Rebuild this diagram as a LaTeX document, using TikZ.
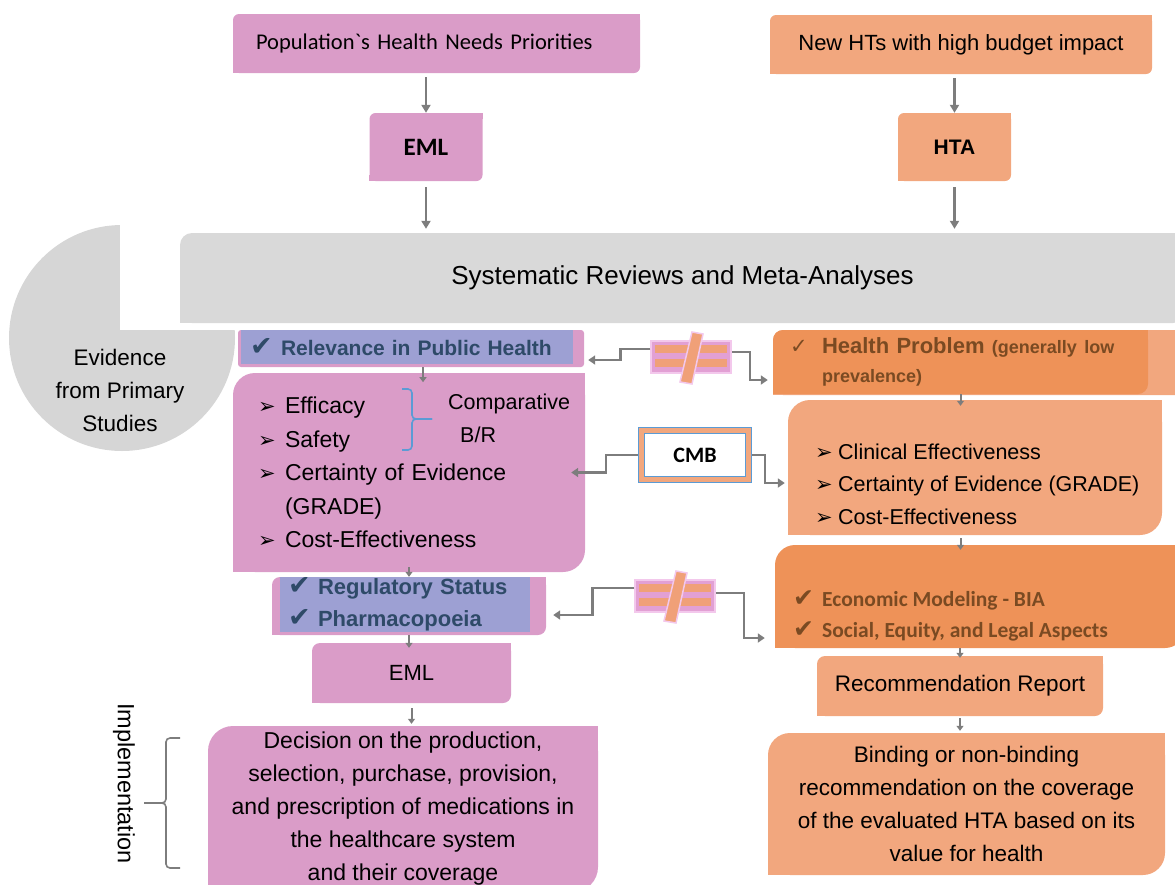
\documentclass[tikz,border=0pt]{standalone}
\usepackage{fontspec}
\setmainfont{Liberation Sans}
\newfontfamily\calibri{Carlito}
\newfontfamily\symfont{DejaVu Sans}
\usetikzlibrary{arrows.meta,calc,positioning}

\definecolor{cpink}{RGB}{218,156,200}
\definecolor{clav}{RGB}{157,160,211}
\definecolor{csalmon}{RGB}{242,167,126}
\definecolor{corange}{RGB}{238,146,88}
\definecolor{cgreybox}{RGB}{217,217,217}
\definecolor{ccircle}{RGB}{214,214,214}
\definecolor{cgrey}{RGB}{125,125,125}
\definecolor{cslate}{RGB}{46,74,104}
\definecolor{cbrown}{RGB}{122,74,34}
\definecolor{cblue}{RGB}{91,155,213}
\definecolor{cneqpink}{RGB}{226,160,212}
\definecolor{cneqedge}{RGB}{243,200,236}
\definecolor{cneqorange}{RGB}{240,160,120}

\newcommand\fs[2]{\fontsize{#1}{#2}\selectfont}
\newcommand\bul[1][27pt]{\makebox[#1][l]{\symfont\fs{21}{21}➢}}
\newcommand\chk[2][29pt]{\makebox[#1][l]{\symfont\fs{#2}{#2}✔}}
% square off top right and bottom left corner
\newcommand\sqcorner[3]{%
  \fill[#2] (#1.north east) rectangle ([xshift=-#3,yshift=-#3]#1.north east);
  \fill[#2] (#1.south west) rectangle ([xshift=#3,yshift=#3]#1.south west);}
% not-equal sign on a link
\newcommand\neqmark[1]{%
  \begin{scope}[shift={(#1.center)}]
    \fill[cneqorange] (-36,-12.5) rectangle (36,-4.5);
    \fill[cneqorange] (-36,1.5) rectangle (36,9.5);
    \draw[cneqedge, line width=1.5pt, fill=cneqorange] (1,-25) -- (12,-23) -- (1,27) -- (-11,25) -- cycle;
  \end{scope}}

\tikzset{
pbox/.style={
  fill=cpink,
  rounded corners=#1,
  inner sep=0pt,
  },
pbox/.default=8pt,
obox/.style={
  fill=csalmon,
  rounded corners=#1,
  inner sep=0pt,
  },
obox/.default=8pt,
dbox/.style={
  fill=corange,
  rounded corners=#1,
  inner sep=0pt,
  },
dbox/.default=8pt,
lbox/.style={
  fill=clav,
  inner sep=0pt,
  text=cslate,
  font=\bfseries\fs{21}{24},
  },
neqbox/.style={
  fill=cneqpink,
  draw=cneqedge,
  line width=1.5pt,
  minimum width=80pt,
  minimum height=32pt,
  }
}
\tikzset{
myarrow/.style={
  draw=cgrey,
  line width=2.2pt,
  -{Triangle[length=8pt,width=9pt]}
  },
smallarrow/.style={
  draw=cgrey,
  line width=2pt,
  -{Triangle[length=5pt,width=7pt]}
  },
myconn/.style={
  draw=cgrey,
  line width=2.5pt,
  -{Triangle[length=7pt,width=9pt]}
  },
mybrace/.style={
  line width=1.6pt,
  rounded corners=4pt,
  }
}

\begin{document}
\begin{tikzpicture}[x=1pt,y=-1pt]
    \useasboundingbox (0,0) rectangle (1175,884);
    \clip (0,0) rectangle (1175,884);

    % evidence part
    \fill[ccircle] (122,338) circle[radius=113pt];
    \fill[white] (120,200) rectangle (250,330);
    \node[align=center, font=\fs{22.5}{33}] (ev) at (120,390) {Evidence\\from Primary\\Studies};

    % top part
    \node[pbox=6pt, text width=361pt, inner xsep=23pt, minimum height=59pt, align=left, font=\calibri\fs{22.5}{28}] (pop) at (436.5,43.5) {Population\textasciigrave s Health Needs Priorities};
    \node[pbox=6pt, minimum width=113pt, minimum height=68pt, font=\calibri\bfseries\fs{25}{30}] (eml1) at (426,147) {EML};
    \node[obox=6pt, minimum width=382pt, minimum height=59pt, font=\fs{22}{26}] (newht) at (961,44.5) {New HTs with high budget impact};
    \node[obox=6pt, minimum width=113pt, minimum height=68pt, font=\bfseries\fs{21}{26}] (hta) at (954.5,147) {HTA};
    \node[fill=cgreybox, rounded corners=12pt, minimum width=1005pt, minimum height=90pt, font=\fs{26}{30}] (sr) at (682.5,278) {Systematic Reviews and Meta-Analyses};

    % left part
    \node[pbox=3pt, minimum width=346pt, minimum height=37pt] (relev_bg) at (411,348.5) {};
    \node[lbox, text width=314pt, inner xsep=9pt, minimum height=34pt, align=left] (relev) at (407,347) {\chk[31pt]{27}Relevance in Public Health};
    \node[pbox=22pt, text width=302pt, inner xsep=25pt, minimum height=199pt, align=left, font=\fs{23}{33.5}] (list) at (409,472.5) {\bul Efficacy\\ \bul Safety\\ \bul Certainty of Evidence\\ \hspace*{27pt}(GRADE)\\ \bul Cost-Effectiveness};
    \node[anchor=west, inner sep=0pt, align=left, font=\fs{21.5}{33}] (compar) at (448,418.5) {Comparative\\\hspace*{12pt}B/R};
    \draw[mybrace, cblue] (402,389) -- (412,389) -- (412,419) -- (432,419);
    \draw[mybrace, cblue] (402,450) -- (412,450) -- (412,419) -- (432,419);
    \node[pbox=8pt, minimum width=274pt, minimum height=58pt] (reg_bg) at (409,606) {};
    \node[lbox, text width=234pt, inner xsep=8pt, minimum height=55pt, align=left, font=\bfseries\fs{22}{32}] (reg) at (405,604.5) {\chk[30pt]{27}Regulatory Status\\ \chk[30pt]{27}Pharmacopoeia};
    \node[pbox=8pt, minimum width=199pt, minimum height=60pt, font=\fs{22}{26}] (eml2) at (411.5,673) {EML};
    \node[pbox=25pt, minimum width=390pt, minimum height=166pt, align=center, font=\fs{23}{33}] (decision) at (403,809) {Decision on the production,\\ selection, purchase, provision,\\ and prescription of medications in\\ the healthcare system\\ and their coverage};
    \node[rotate=-90, anchor=west, inner sep=0pt, font=\fs{23.5}{28}] (impl) at (124,703) {Implementation};
    \draw[mybrace, cgrey] (180,738) -- (166,738) -- (166,803) -- (144,803);
    \draw[mybrace, cgrey] (180,868) -- (166,868) -- (166,803) -- (144,803);

    % right part
    \node[obox=10pt, minimum width=412pt, minimum height=65pt] (hp_bg) at (979,362.5) {};
    \node[dbox=10pt, text width=341pt, inner xsep=17pt, minimum height=64pt, align=left, text=cbrown, font=\bfseries\fs{22}{29}] (hp) at (960.5,362) {\makebox[32pt][l]{\symfont\mdseries\fs{21}{21}✓}Health Problem {\fs{18}{29}(generally low}\\ \hspace*{32pt}{\fs{18}{29}prevalence)}};
    \node[obox=22pt, minimum width=374pt, minimum height=135pt] (clin) at (975,467.5) {};
    \node[anchor=west, inner sep=0pt, align=left, font=\fs{21.5}{32.5}] (clin_txt) at (815,484) {\bul[23pt]Clinical Effectiveness\\ \bul[23pt]Certainty of Evidence (GRADE)\\ \bul[23pt]Cost-Effectiveness};
    \node[dbox=20pt, minimum width=410pt, minimum height=103pt] (econ) at (980,596.5) {};
    \node[anchor=west, inner sep=0pt, align=left, text=cbrown, font=\calibri\bfseries\fs{21.5}{31}] (econ_txt) at (793,615.5) {\chk[29pt]{25}Economic Modeling - BIA\\ \chk[29pt]{25}Social, Equity, and Legal Aspects};
    \node[obox=8pt, minimum width=286pt, minimum height=60pt, font=\fs{22.5}{26}] (rec) at (960,686) {Recommendation Report};
    \node[obox=22pt, minimum width=397pt, minimum height=142pt, align=center, font=\fs{22.5}{33}] (bind) at (966.5,804) {Binding or non-binding\\ recommendation on the coverage\\ of the evaluated HTA based on its\\ value for health};

    % corners
    \sqcorner{pop}{cpink}{6pt}
    \sqcorner{eml1}{cpink}{6pt}
    \sqcorner{newht}{csalmon}{6pt}
    \sqcorner{hta}{csalmon}{6pt}
    \sqcorner{sr}{cgreybox}{12pt}
    \sqcorner{list}{cpink}{22pt}
    \sqcorner{reg_bg}{cpink}{8pt}
    \sqcorner{eml2}{cpink}{8pt}
    \sqcorner{decision}{cpink}{25pt}
    \sqcorner{hp_bg}{csalmon}{10pt}
    \sqcorner{hp}{corange}{10pt}
    \sqcorner{clin}{csalmon}{22pt}
    \sqcorner{econ}{corange}{20pt}
    \sqcorner{rec}{csalmon}{8pt}
    \sqcorner{bind}{csalmon}{22pt}

    % link nodes
    \node[neqbox] (neq1) at (691,357) {};
    \neqmark{neq1}
    \node[draw=cblue, line width=1.2pt, double=csalmon, double distance=5pt, fill=white, minimum width=107pt, minimum height=49pt, font=\calibri\bfseries\fs{22}{26}] (cmb) at (695,455) {CMB};
    \node[neqbox] (neq2) at (675,596) {};
    \neqmark{neq2}

    % top edges
    \draw[myarrow, shorten <=4pt] (eml1.north |- pop.south) -- (eml1.north);
    \draw[myarrow, shorten <=6pt, shorten >=4pt] (eml1.south) -- (eml1.south |- sr.north);
    \draw[myarrow, shorten <=4pt] (hta.north |- newht.south) -- (hta.north);
    \draw[myarrow, shorten <=6pt, shorten >=4pt] (hta.south) -- (hta.south |- sr.north);

    % left edges
    \draw[smallarrow] ([xshift=12pt]relev_bg.south) -- ++(0,15);
    \draw[smallarrow] ([yshift=5pt]list.south) -- (list.south |- reg_bg.north);
    \draw[smallarrow, shorten >=-5pt] (reg_bg.south) -- (reg_bg.south |- eml2.north);
    \draw[smallarrow, shorten <=5pt, shorten >=2pt] (eml2.south) -- (eml2.south |- decision.north);

    % right edges
    \draw[smallarrow, shorten >=-6pt] (hp.south) -- (hp.south |- clin.north);
    \draw[smallarrow, shorten <=3pt, shorten >=-5pt] (hp.south |- clin.south) -- (hp.south |- econ.north);
    \draw[smallarrow, shorten >=-2pt] (rec.north |- econ.south) -- (rec.north);
    \draw[smallarrow, shorten <=2pt, shorten >=2pt] (rec.south) -- (rec.south |- bind.north);

    % link edges
    \draw[myconn, shorten >=4pt] ([yshift=8pt]neq1.west) -- ++(-30,0) |- ([yshift=-11.5pt]relev_bg.east);
    \draw[myconn, shorten >=5pt] ([yshift=5pt]neq1.east) -- ++(18,0) |- ([yshift=-18pt]hp.west);
    \draw[myconn, shorten <=3pt, shorten >=-14pt] (cmb.west) -- ++(-35,0) |- (list.east);
    \draw[myconn, shorten <=3pt, shorten >=3pt] (cmb.east) -- ++(16,0) |- ([yshift=-15.5pt]clin.west);
    \draw[myconn, shorten >=7pt] ([yshift=8pt]neq2.west) -- ++(-42,0) |- ([yshift=-9pt]reg_bg.east);
    \draw[myconn, shorten >=10pt] ([yshift=3pt]neq2.east) -- ++(28,0) |- ([yshift=-41.5pt]econ.west);
\end{tikzpicture}
\end{document}
